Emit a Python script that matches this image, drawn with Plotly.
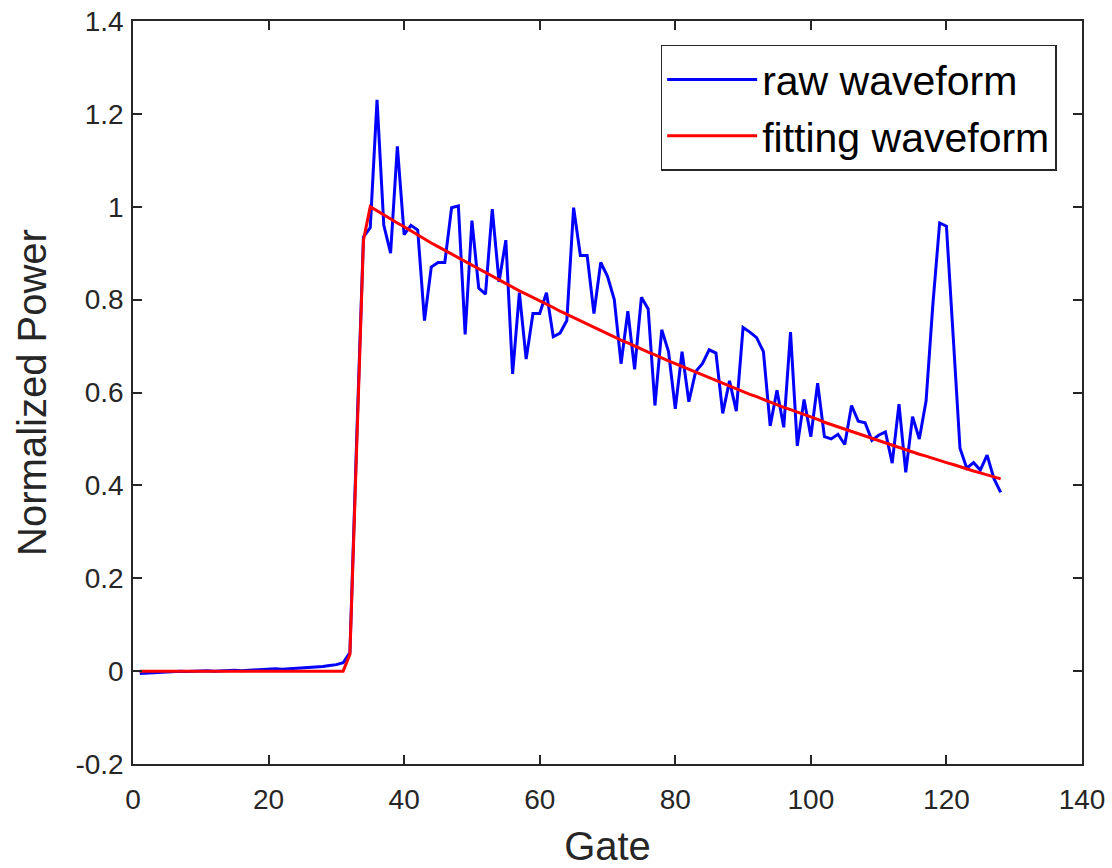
import plotly.graph_objects as go

gates = list(range(1, 129))

raw_waveform = [
    -0.005, -0.004, -0.003, -0.002, -0.002, -0.001, 0.000, -0.001, 0.000, 0.000,
    0.001, 0.000, 0.001, 0.002, 0.002, 0.001, 0.002, 0.003, 0.004, 0.004,
    0.005, 0.004, 0.005, 0.006, 0.006, 0.008, 0.009, 0.010, 0.012, 0.014,
    0.018, 0.040, 0.500, 0.935, 0.955, 1.230, 0.960, 0.900, 1.130, 0.940,
    0.960, 0.950, 0.755, 0.870, 0.880, 0.880, 0.998, 1.002, 0.725, 0.970,
    0.825, 0.812, 0.995, 0.838, 0.928, 0.640, 0.815, 0.672, 0.770, 0.770,
    0.815, 0.720, 0.728, 0.755, 0.998, 0.895, 0.895, 0.770, 0.880, 0.850,
    0.800, 0.662, 0.775, 0.650, 0.805, 0.780, 0.572, 0.735, 0.688, 0.565,
    0.688, 0.580, 0.645, 0.662, 0.692, 0.685, 0.555, 0.625, 0.560, 0.740,
    0.730, 0.718, 0.688, 0.528, 0.605, 0.525, 0.730, 0.485, 0.585, 0.505,
    0.620, 0.505, 0.500, 0.510, 0.488, 0.572, 0.538, 0.535, 0.497, 0.508,
    0.515, 0.448, 0.575, 0.428, 0.548, 0.500, 0.582, 0.790, 0.965, 0.958,
    0.720, 0.480, 0.437, 0.449, 0.433, 0.465, 0.415, 0.385,
]

fitting_waveform = [
    0.0, 0.0, 0.0, 0.0, 0.0, 0.0, 0.0, 0.0, 0.0, 0.0,
    0.0, 0.0, 0.0, 0.0, 0.0, 0.0, 0.0, 0.0, 0.0, 0.0,
    0.0, 0.0, 0.0, 0.0, 0.0, 0.0, 0.0, 0.0, 0.0, 0.0,
    0.0, 0.036, 0.480, 0.928, 1.000, 0.991, 0.983, 0.974, 0.965, 0.957,
    0.948, 0.940, 0.931, 0.922, 0.914, 0.906, 0.898, 0.890, 0.882, 0.874,
    0.866, 0.858, 0.850, 0.842, 0.834, 0.827, 0.819, 0.812, 0.805, 0.797,
    0.790, 0.783, 0.775, 0.768, 0.761, 0.754, 0.747, 0.740, 0.734, 0.727,
    0.720, 0.713, 0.707, 0.700, 0.693, 0.687, 0.681, 0.674, 0.668, 0.662,
    0.656, 0.649, 0.643, 0.637, 0.631, 0.625, 0.619, 0.614, 0.608, 0.602,
    0.596, 0.591, 0.585, 0.579, 0.573, 0.568, 0.563, 0.558, 0.552, 0.547,
    0.542, 0.536, 0.531, 0.526, 0.521, 0.516, 0.511, 0.506, 0.501, 0.496,
    0.491, 0.486, 0.482, 0.477, 0.472, 0.467, 0.463, 0.458, 0.454, 0.449,
    0.445, 0.440, 0.436, 0.431, 0.427, 0.423, 0.418, 0.414,
]

x_ticks = [0, 20, 40, 60, 80, 100, 120, 140]
y_ticks = [-0.2, 0, 0.2, 0.4, 0.6, 0.8, 1, 1.2, 1.4]
y_tick_labels = ["-0.2", "0", "0.2", "0.4", "0.6", "0.8", "1", "1.2", "1.4"]

AXIS_COLOR = "#262626"
FONT = "Liberation Sans, Arial, sans-serif"

fig = go.Figure()
fig.add_trace(go.Scatter(x=gates, y=raw_waveform, mode="lines", name="raw waveform",
                         line=dict(color="#0000FF", width=3)))
fig.add_trace(go.Scatter(x=gates, y=fitting_waveform, mode="lines", name="fitting waveform",
                         line=dict(color="#FF0000", width=3)))

axis_common = dict(
    showline=True, linecolor=AXIS_COLOR, linewidth=1.5, mirror="ticks",
    ticks="inside", ticklen=9, tickwidth=1.5, tickcolor=AXIS_COLOR,
    showgrid=False, zeroline=False, automargin=False,
    tickfont=dict(family=FONT, size=28, color=AXIS_COLOR),
)

fig.update_xaxes(range=[0, 140], tickvals=x_ticks, ticktext=[str(v) for v in x_ticks],
                 ticklabelstandoff=10,
                 title=dict(text="Gate", font=dict(family=FONT, size=40, color=AXIS_COLOR), standoff=22),
                 **axis_common)
fig.update_yaxes(range=[-0.2, 1.4], tickvals=y_ticks, ticktext=y_tick_labels,
                 ticklabelstandoff=2,
                 title=dict(text="Normalized Power", font=dict(family=FONT, size=40, color=AXIS_COLOR), standoff=16),
                 **axis_common)

fig.update_layout(
    width=1112, height=868,
    margin=dict(l=133, r=30, t=21, b=104),
    paper_bgcolor="white", plot_bgcolor="white",
    showlegend=True,
    legend=dict(x=0.556, y=0.968, xanchor="left", yanchor="top",
                bgcolor="white", bordercolor=AXIS_COLOR, borderwidth=1.5,
                font=dict(family=FONT, size=41, color="#000000"),
                itemwidth=90, tracegroupgap=0),
)

fig.write_html("out.html")
